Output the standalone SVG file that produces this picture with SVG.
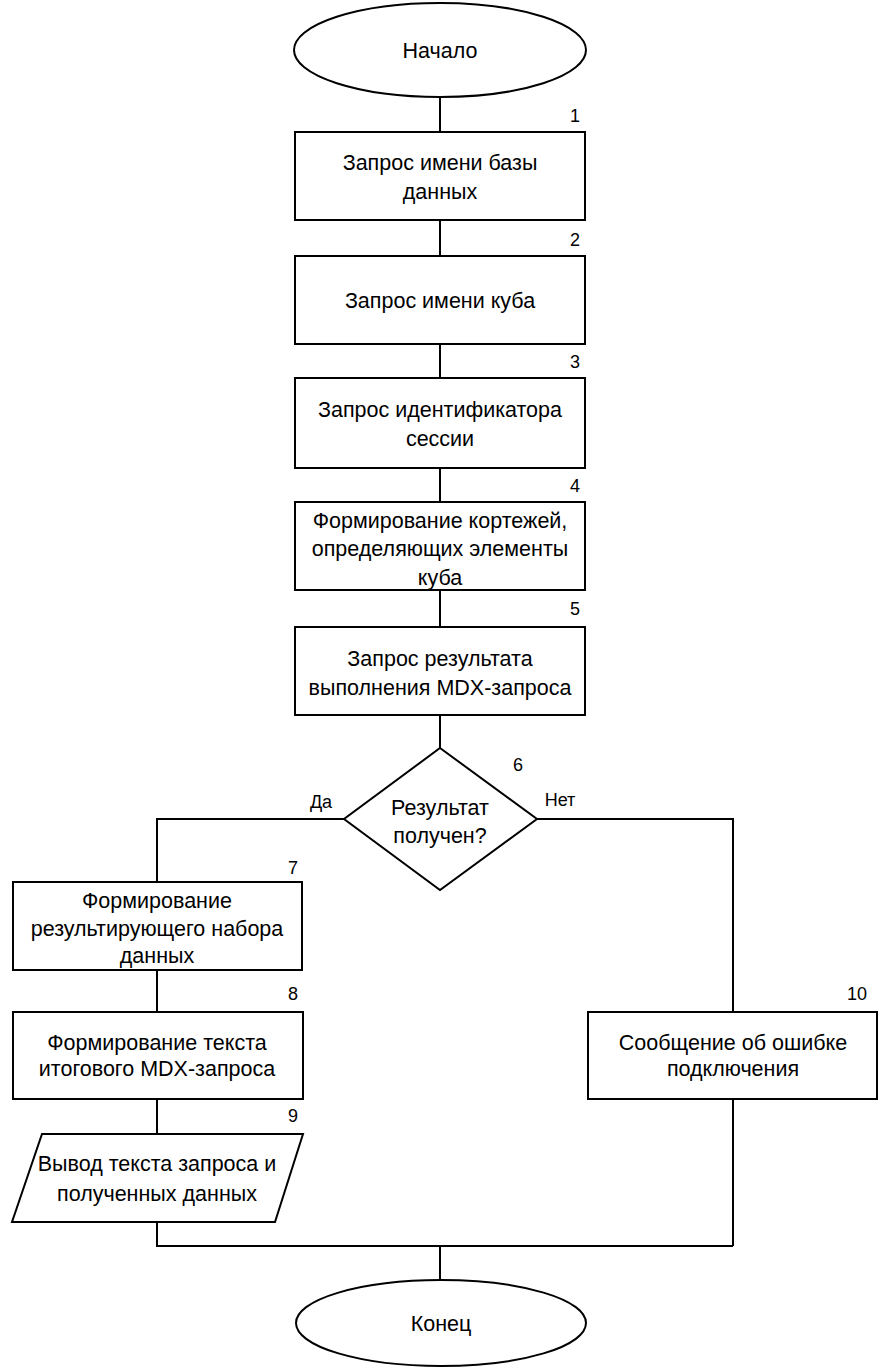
<svg xmlns="http://www.w3.org/2000/svg" width="879" height="1367" viewBox="0 0 879 1367">
<style>
.s{fill:#fff;stroke:#000;stroke-width:2}
.c{fill:none;stroke:#000;stroke-width:2}
text{font-family:"Liberation Sans",Arial,sans-serif;font-size:21.5px;fill:#000;text-anchor:middle}
.n{font-size:18px}
</style>
<rect width="879" height="1367" fill="#fff"/>
<g id="connectors">
<path class="c" d="M440 97V132M440 220V256M440 344V378M440 468V502M440 590V627M440 715V748"/>
<path class="c" d="M344 819H157V882M157 970V1012M157 1099V1134M157 1222V1246H733"/>
<path class="c" d="M537 819H733V1012M733 1099V1246M440 1246V1280"/>
</g>
<g id="start"><ellipse class="s" cx="440" cy="50" rx="146" ry="47"/><text x="440" y="58">Начало</text></g>
<g id="n1"><rect class="s" x="295" y="132" width="290" height="88"/><text x="440" y="170">Запрос имени базы</text><text x="440" y="199">данных</text><text class="n" x="575" y="122">1</text></g>
<g id="n2"><rect class="s" x="295" y="256" width="290" height="88"/><text x="440" y="308">Запрос имени куба</text><text class="n" x="575" y="246">2</text></g>
<g id="n3"><rect class="s" x="295" y="378" width="290" height="90"/><text x="440" y="417">Запрос идентификатора</text><text x="440" y="446">сессии</text><text class="n" x="575" y="368">3</text></g>
<g id="n4"><rect class="s" x="295" y="502" width="290" height="88"/><text x="440" y="528">Формирование кортежей,</text><text x="440" y="556">определяющих элементы</text><text x="440" y="585">куба</text><text class="n" x="575" y="492">4</text></g>
<g id="n5"><rect class="s" x="295" y="627" width="290" height="88"/><text x="440" y="666">Запрос результата</text><text x="440" y="695">выполнения MDX-запроса</text><text class="n" x="575" y="615">5</text></g>
<g id="n6"><polygon class="s" points="440,748 537,819 440,890 344,819"/><text x="440" y="815">Результат</text><text x="440" y="843">получен?</text><text class="n" x="518" y="771">6</text><text class="n" x="321" y="808">Да</text><text class="n" x="560" y="806">Нет</text></g>
<g id="n7"><rect class="s" x="13" y="882" width="289" height="88"/><text x="157" y="908">Формирование</text><text x="157" y="936">результирующего набора</text><text x="157" y="963">данных</text><text class="n" x="293" y="874">7</text></g>
<g id="n8"><rect class="s" x="13" y="1012" width="290" height="87"/><text x="157" y="1050">Формирование текста</text><text x="157" y="1076">итогового MDX-запроса</text><text class="n" x="293" y="1000">8</text></g>
<g id="n9"><polygon class="s" points="42,1134 303,1134 275,1222 12,1222"/><text x="157" y="1171">Вывод текста запроса и</text><text x="157" y="1201">полученных данных</text><text class="n" x="293" y="1122">9</text></g>
<g id="n10"><rect class="s" x="588" y="1012" width="289" height="87"/><text x="733" y="1050">Сообщение об ошибке</text><text x="733" y="1076">подключения</text><text class="n" x="857" y="1000">10</text></g>
<g id="end"><ellipse class="s" cx="441" cy="1323" rx="145" ry="43"/><text x="441" y="1331">Конец</text></g>
</svg>
